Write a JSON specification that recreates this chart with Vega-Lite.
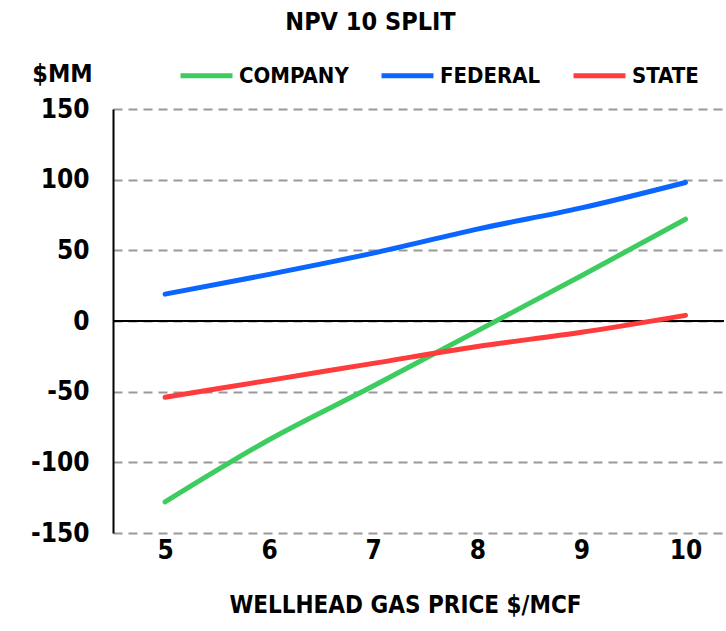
{
  "$schema": "https://vega.github.io/schema/vega-lite/v6.json",
  "width": 611,
  "height": 424,
  "autosize": "none",
  "padding": {"left": 113, "top": 109, "right": 2, "bottom": 98},
  "background": "white",
  "title": {
    "text": "NPV 10 SPLIT",
    "font": "DejaVu Sans Condensed",
    "fontWeight": "bold",
    "fontSize": 25,
    "color": "black",
    "anchor": "middle",
    "frame": "group",
    "dx": -48,
    "offset": 12
  },
  "config": {
    "view": {"stroke": null},
    "font": "DejaVu Sans Condensed"
  },
  "data": {
    "values": [
      {"price": 5, "series": "COMPANY", "value": -128},
      {"price": 6, "series": "COMPANY", "value": -84},
      {"price": 7, "series": "COMPANY", "value": -46},
      {"price": 8, "series": "COMPANY", "value": -7},
      {"price": 9, "series": "COMPANY", "value": 32},
      {"price": 10, "series": "COMPANY", "value": 72},
      {"price": 5, "series": "FEDERAL", "value": 19},
      {"price": 6, "series": "FEDERAL", "value": 33},
      {"price": 7, "series": "FEDERAL", "value": 48},
      {"price": 8, "series": "FEDERAL", "value": 65},
      {"price": 9, "series": "FEDERAL", "value": 80},
      {"price": 10, "series": "FEDERAL", "value": 98},
      {"price": 5, "series": "STATE", "value": -54},
      {"price": 6, "series": "STATE", "value": -42},
      {"price": 7, "series": "STATE", "value": -30},
      {"price": 8, "series": "STATE", "value": -18},
      {"price": 9, "series": "STATE", "value": -8},
      {"price": 10, "series": "STATE", "value": 4}
    ]
  },
  "layer": [
    {
      "mark": {"type": "rule", "color": "black", "strokeWidth": 2},
      "encoding": {"y": {"datum": 0, "type": "quantitative"}}
    },
    {
      "mark": {"type": "line", "strokeWidth": 5, "strokeCap": "round", "interpolate": "monotone"},
      "encoding": {
        "x": {
          "field": "price",
          "type": "quantitative",
          "scale": {"domain": [4.5, 10.37], "nice": false, "zero": false},
          "axis": {
            "title": "WELLHEAD GAS PRICE $/MCF",
            "values": [5, 6, 7, 8, 9, 10],
            "format": "d",
            "grid": false,
            "domain": false,
            "ticks": false,
            "labelFont": "DejaVu Sans Condensed",
            "labelFontWeight": "bold",
            "labelFontSize": 26,
            "labelColor": "black",
            "labelPadding": 4,
            "titleFont": "DejaVu Sans Condensed",
            "titleFontWeight": "bold",
            "titleFontSize": 24,
            "titleColor": "black",
            "titlePadding": 30,
            "titleX": 292
          }
        },
        "y": {
          "field": "value",
          "type": "quantitative",
          "scale": {"domain": [-150, 150], "nice": false},
          "axis": {
            "title": "$MM",
            "titleAngle": 0,
            "titleX": -51,
            "titleY": -36,
            "titleAlign": "center",
            "titleBaseline": "middle",
            "titleFont": "DejaVu Sans Condensed",
            "titleFontWeight": "bold",
            "titleFontSize": 25,
            "titleColor": "black",
            "values": [-150, -100, -50, 0, 50, 100, 150],
            "labelExpr": "'' + datum.value",
            "grid": true,
            "gridColor": "#999999",
            "gridDash": [9, 6],
            "gridWidth": 2,
            "domain": true,
            "domainColor": "black",
            "domainWidth": 2,
            "ticks": false,
            "labelFont": "DejaVu Sans Condensed",
            "labelFontWeight": "bold",
            "labelFontSize": 26,
            "labelColor": "black",
            "labelPadding": 24
          }
        },
        "color": {
          "field": "series",
          "type": "nominal",
          "scale": {
            "domain": ["COMPANY", "FEDERAL", "STATE"],
            "range": ["#3DCC60", "#0A66FF", "#FF3B3B"]
          },
          "legend": {
            "title": null,
            "orient": "none",
            "legendX": 65,
            "legendY": -62,
            "direction": "horizontal",
            "symbolType": "stroke",
            "symbolStrokeWidth": 5,
            "symbolSize": 2700,
            "labelOffset": 4,
            "columnPadding": 22,
            "padding": 0,
            "labelFont": "DejaVu Sans Condensed",
            "labelFontWeight": "bold",
            "labelFontSize": 22,
            "labelColor": "black",
            "labelLimit": 300
          }
        }
      }
    }
  ]
}
